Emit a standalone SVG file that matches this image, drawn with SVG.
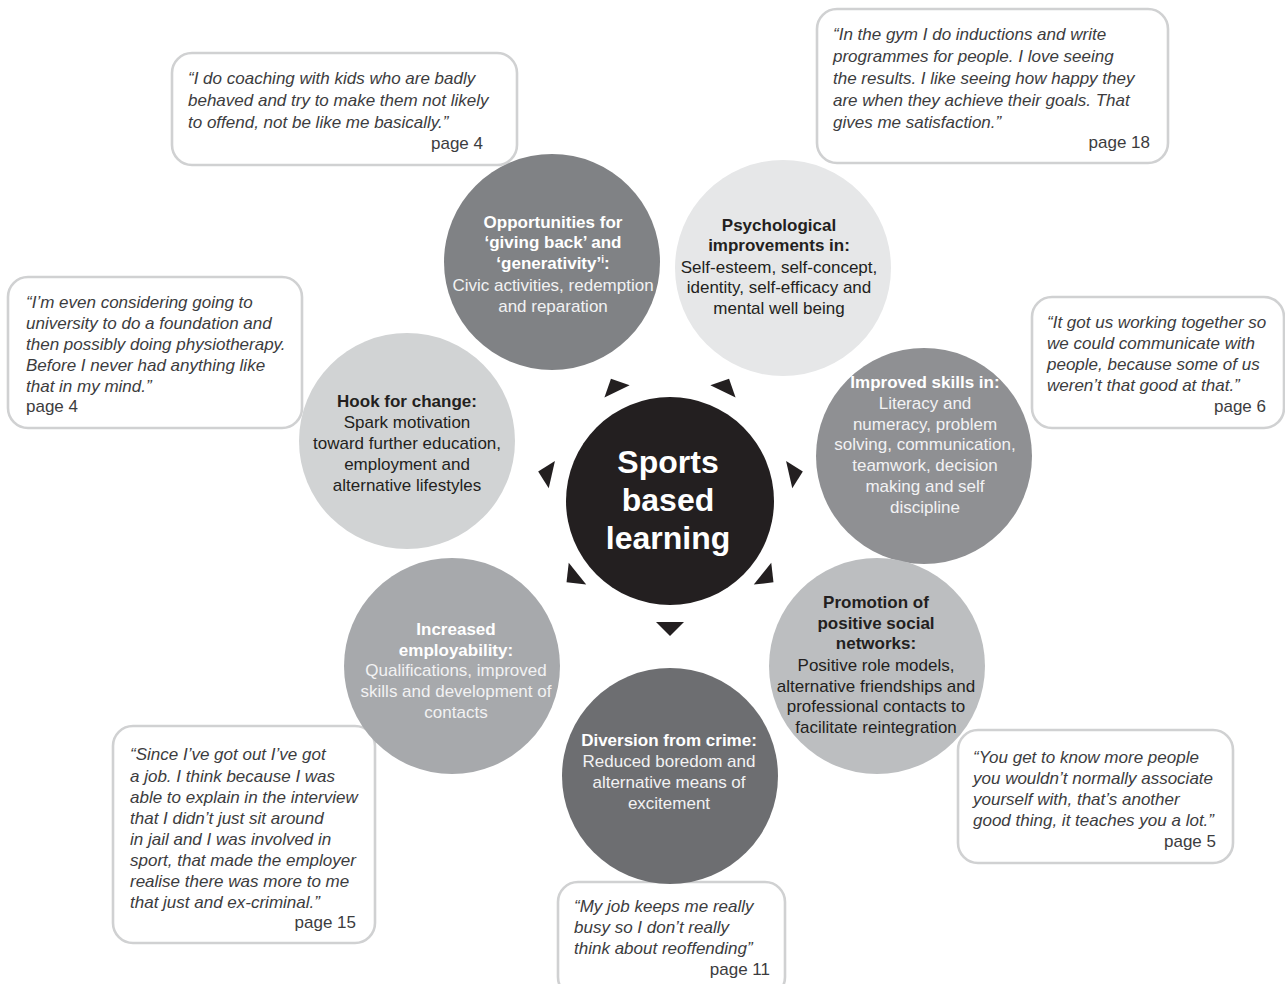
<svg xmlns="http://www.w3.org/2000/svg" width="1285" height="984" viewBox="0 0 1285 984">
<style>
.q{fill:#fff;stroke:#d0d1d2;stroke-width:2.6}
.qt{font-family:"Liberation Sans",Arial,sans-serif;font-size:17px;font-style:italic;fill:#3c3c3e}
.pg{font-family:"Liberation Sans",Arial,sans-serif;font-size:17px;fill:#3c3c3e}
.nt{font-family:"Liberation Sans",Arial,sans-serif;font-size:17px;text-anchor:middle}
.b{font-weight:bold}
.w{fill:#ffffff}
.wl{fill:#f2f2f3}
.d{fill:#231f20}
.tri{fill:#231f20}
</style>
<defs>
<polygon id="tri" points="-14,-7 14,-7 0,7"/>
</defs>
<rect width="1285" height="984" fill="#ffffff"/>

<g id="quote-coaching">
<rect class="q" x="172" y="53" width="345" height="112" rx="20"/>
<text class="qt" x="188"><tspan x="188" y="84">“I do coaching with kids who are badly</tspan><tspan x="188" y="106">behaved and try to make them not likely</tspan><tspan x="188" y="128">to offend, not be like me basically.”</tspan></text>
<text class="pg" x="483" y="149" text-anchor="end">page 4</text>
</g>
<g id="quote-gym">
<rect class="q" x="817" y="9" width="351" height="154" rx="20"/>
<text class="qt"><tspan x="833" y="40">“In the gym I do inductions and write</tspan><tspan x="833" y="62">programmes for people. I love seeing</tspan><tspan x="833" y="84">the results. I like seeing how happy they</tspan><tspan x="833" y="106">are when they achieve their goals. That</tspan><tspan x="833" y="128">gives me satisfaction.”</tspan></text>
<text class="pg" x="1150" y="148" text-anchor="end">page 18</text>
</g>
<g id="quote-university">
<rect class="q" x="8" y="277" width="294" height="151" rx="20"/>
<text class="qt"><tspan x="26" y="308">“I’m even considering going to</tspan><tspan x="26" y="329">university to do a foundation and</tspan><tspan x="26" y="350">then possibly doing physiotherapy.</tspan><tspan x="26" y="371">Before I never had anything like</tspan><tspan x="26" y="392">that in my mind.”</tspan></text>
<text class="pg" x="26" y="412">page 4</text>
</g>
<g id="quote-together">
<rect class="q" x="1032" y="297" width="252" height="131" rx="20"/>
<text class="qt"><tspan x="1047" y="328">“It got us working together so</tspan><tspan x="1047" y="349">we could communicate with</tspan><tspan x="1047" y="370">people, because some of us</tspan><tspan x="1047" y="391">weren’t that good at that.”</tspan></text>
<text class="pg" x="1266" y="412" text-anchor="end">page 6</text>
</g>
<g id="quote-people">
<rect class="q" x="958" y="730" width="275" height="133" rx="20"/>
<text class="qt"><tspan x="973" y="763">“You get to know more people</tspan><tspan x="973" y="784">you wouldn’t normally associate</tspan><tspan x="973" y="805">yourself with, that’s another</tspan><tspan x="973" y="826">good thing, it teaches you a lot.”</tspan></text>
<text class="pg" x="1216" y="847" text-anchor="end">page 5</text>
</g>
<g id="quote-job">
<rect class="q" x="113" y="726" width="262" height="217" rx="20"/>
<text class="qt"><tspan x="130" y="760">“Since I’ve got out I’ve got</tspan><tspan x="130" y="782">a job. I think because I was</tspan><tspan x="130" y="803">able to explain in the interview</tspan><tspan x="130" y="824">that I didn’t just sit around</tspan><tspan x="130" y="845">in jail and I was involved in</tspan><tspan x="130" y="866">sport, that made the employer</tspan><tspan x="130" y="887">realise there was more to me</tspan><tspan x="130" y="908">that just and ex-criminal.”</tspan></text>
<text class="pg" x="356" y="928" text-anchor="end">page 15</text>
</g>
<g id="quote-busy">
<rect class="q" x="558" y="882" width="227" height="115" rx="20"/>
<text class="qt"><tspan x="574" y="912">“My job keeps me really</tspan><tspan x="574" y="933">busy so I don’t really</tspan><tspan x="574" y="954">think about reoffending”</tspan></text>
<text class="pg" x="770" y="975" text-anchor="end">page 11</text>
</g>

<g id="node-opportunities">
<circle cx="552" cy="262" r="108" fill="#808285"/>
<text class="nt"><tspan class="b w" x="553" y="228">Opportunities for</tspan><tspan class="b w" x="553" y="248">‘giving back’ and</tspan><tspan class="b w" x="553" y="269">‘generativity’<tspan font-size="10" dy="-6">i</tspan><tspan dy="6">:</tspan></tspan><tspan class="wl" x="553" y="291">Civic activities, redemption</tspan><tspan class="wl" x="553" y="312">and reparation</tspan></text>
</g>
<g id="node-psychological">
<circle cx="783" cy="268" r="108" fill="#e6e7e8"/>
<text class="nt d"><tspan class="b" x="779" y="231">Psychological</tspan><tspan class="b" x="779" y="251">improvements in:</tspan><tspan x="779" y="273">Self-esteem, self-concept,</tspan><tspan x="779" y="293">identity, self-efficacy and</tspan><tspan x="779" y="314">mental well being</tspan></text>
</g>
<g id="node-skills">
<circle cx="924" cy="456" r="108" fill="#8f9093"/>
<text class="nt"><tspan class="b w" x="925" y="388">Improved skills in:</tspan><tspan class="wl" x="925" y="409">Literacy and</tspan><tspan class="wl" x="925" y="430">numeracy, problem</tspan><tspan class="wl" x="925" y="450">solving, communication,</tspan><tspan class="wl" x="925" y="471">teamwork, decision</tspan><tspan class="wl" x="925" y="492">making and self</tspan><tspan class="wl" x="925" y="513">discipline</tspan></text>
</g>
<g id="node-networks">
<circle cx="877" cy="666" r="108" fill="#bcbec0"/>
<text class="nt d"><tspan class="b" x="876" y="608">Promotion of</tspan><tspan class="b" x="876" y="629">positive social</tspan><tspan class="b" x="876" y="649">networks:</tspan><tspan x="876" y="671">Positive role models,</tspan><tspan x="876" y="692">alternative friendships and</tspan><tspan x="876" y="712">professional contacts to</tspan><tspan x="876" y="733">facilitate reintegration</tspan></text>
</g>
<g id="node-diversion">
<circle cx="670" cy="776" r="108" fill="#6d6e71"/>
<text class="nt"><tspan class="b w" x="669" y="746">Diversion from crime:</tspan><tspan class="wl" x="669" y="767">Reduced boredom and</tspan><tspan class="wl" x="669" y="788">alternative means of</tspan><tspan class="wl" x="669" y="809">excitement</tspan></text>
</g>
<g id="node-employability">
<circle cx="452" cy="666" r="108" fill="#a7a9ac"/>
<text class="nt"><tspan class="b w" x="456" y="635">Increased</tspan><tspan class="b w" x="456" y="656">employability:</tspan><tspan class="wl" x="456" y="676">Qualifications, improved</tspan><tspan class="wl" x="456" y="697">skills and development of</tspan><tspan class="wl" x="456" y="718">contacts</tspan></text>
</g>
<g id="node-hook">
<circle cx="407" cy="441" r="108" fill="#d1d3d4"/>
<text class="nt d"><tspan class="b" x="407" y="407">Hook for change:</tspan><tspan x="407" y="428">Spark motivation</tspan><tspan x="407" y="449">toward further education,</tspan><tspan x="407" y="470">employment and</tspan><tspan x="407" y="491">alternative lifestyles</tspan></text>
</g>
<g id="node-center">
<circle cx="670" cy="501" r="104" fill="#231f20"/>
<text font-family="Liberation Sans, Arial, sans-serif" font-size="32" font-weight="bold" fill="#ffffff" text-anchor="middle"><tspan x="668" y="473">Sports</tspan><tspan x="668" y="511">based</tspan><tspan x="668" y="549">learning</tspan></text>
</g>

<g id="connectors" class="tri">
<use href="#tri" transform="translate(670,629)"/>
<use href="#tri" transform="translate(572,578) rotate(51.4)"/>
<use href="#tri" transform="translate(768,578) rotate(-51.4)"/>
<use href="#tri" transform="translate(545,473) rotate(102.8)"/>
<use href="#tri" transform="translate(796,473) rotate(-102.8)"/>
<use href="#tri" transform="translate(614,385) rotate(154.3)"/>
<use href="#tri" transform="translate(726,385) rotate(-154.3)"/>
</g>
</svg>
